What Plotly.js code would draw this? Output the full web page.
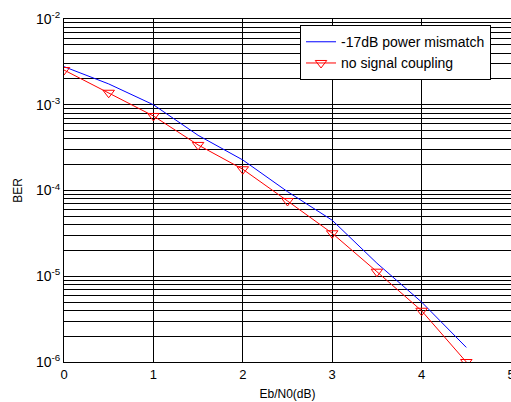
<!DOCTYPE html>
<html>
<head>
<meta charset="utf-8">
<script src="https://cdn.plot.ly/plotly-3.0.1.min.js"></script>
<style>html,body{margin:0;padding:0;background:#fff;overflow:hidden;}#chart{width:520px;height:402px;}</style>
</head>
<body>
<div id="chart"></div>
<script>
const ebn0 = [0, 0.5, 1, 1.5, 2, 2.5, 3, 3.5, 4, 4.5];
const berMismatch = [2.78e-3, 1.75e-3, 1.0e-3, 4.4e-4, 2.27e-4, 9.7e-5, 4.5e-5, 1.42e-5, 5.0e-6, 1.48e-6];
const berNoCoupling = [2.54e-3, 1.38e-3, 7.4e-4, 3.4e-4, 1.77e-4, 7.55e-5, 3.17e-5, 1.13e-5, 3.96e-6, 1.0e-6];
const seriesNames = ["-17dB power mismatch", "no signal coupling"];
const yTickVals = [1e-6, 1e-5, 1e-4, 1e-3, 1e-2];
const yTickText = ["10<sup>-6</sup>", "10<sup>-5</sup>", "10<sup>-4</sup>", "10<sup>-3</sup>", "10<sup>-2</sup>"];
const xTickVals = [0, 1, 2, 3, 4, 5];

const fam = "Liberation Sans, Arial, sans-serif";
const font = {family: fam, size: 12, color: "#000"};

const traces = [
  {x: ebn0, y: berMismatch, name: seriesNames[0], mode: "lines",
   line: {color: "#0000ff", width: 1}},
  {x: ebn0, y: berNoCoupling, name: seriesNames[1], mode: "lines+markers",
   line: {color: "#ff0000", width: 1},
   marker: {symbol: "triangle-down-open", size: 10, color: "#ff0000", line: {width: 1}}}
];

const layout = {
  width: 520, height: 402,
  margin: {l: 64, r: 9, t: 19, b: 40},
  paper_bgcolor: "#fff", plot_bgcolor: "#fff",
  font: font,
  showlegend: true,
  legend: {x: 0.528, y: 0.982, xanchor: "left", yanchor: "top",
           bgcolor: "#fff", bordercolor: "#000", borderwidth: 1,
           font: {family: fam, size: 14, color: "#000"}, tracegroupgap: 0},
  xaxis: {range: [0, 5], tickvals: xTickVals, ticktext: xTickVals.map(String),
          showgrid: true, gridcolor: "#000", gridwidth: 1,
          showline: true, linecolor: "#000", linewidth: 1, mirror: "ticks",
          ticks: "inside", ticklen: 4, tickcolor: "#000", zeroline: false,
          tickfont: {family: fam, size: 13, color: "#000"},
          title: {text: "Eb/N0(dB)", font: font, standoff: 9}},
  yaxis: {type: "log", range: [-6, -2], tickvals: yTickVals, ticktext: yTickText,
          showgrid: true, gridcolor: "#000", gridwidth: 1,
          minor: {dtick: "D1", showgrid: true, gridcolor: "#000", gridwidth: 1, ticks: ""},
          showline: true, linecolor: "#000", linewidth: 1, mirror: "ticks",
          ticks: "inside", ticklen: 4, tickcolor: "#000", zeroline: false,
          tickfont: {family: fam, size: 14, color: "#000"},
          title: {text: "BER", font: font, standoff: 10}}
};

Plotly.newPlot("chart", traces, layout, {staticPlot: true, displayModeBar: false});
</script>
</body>
</html>
